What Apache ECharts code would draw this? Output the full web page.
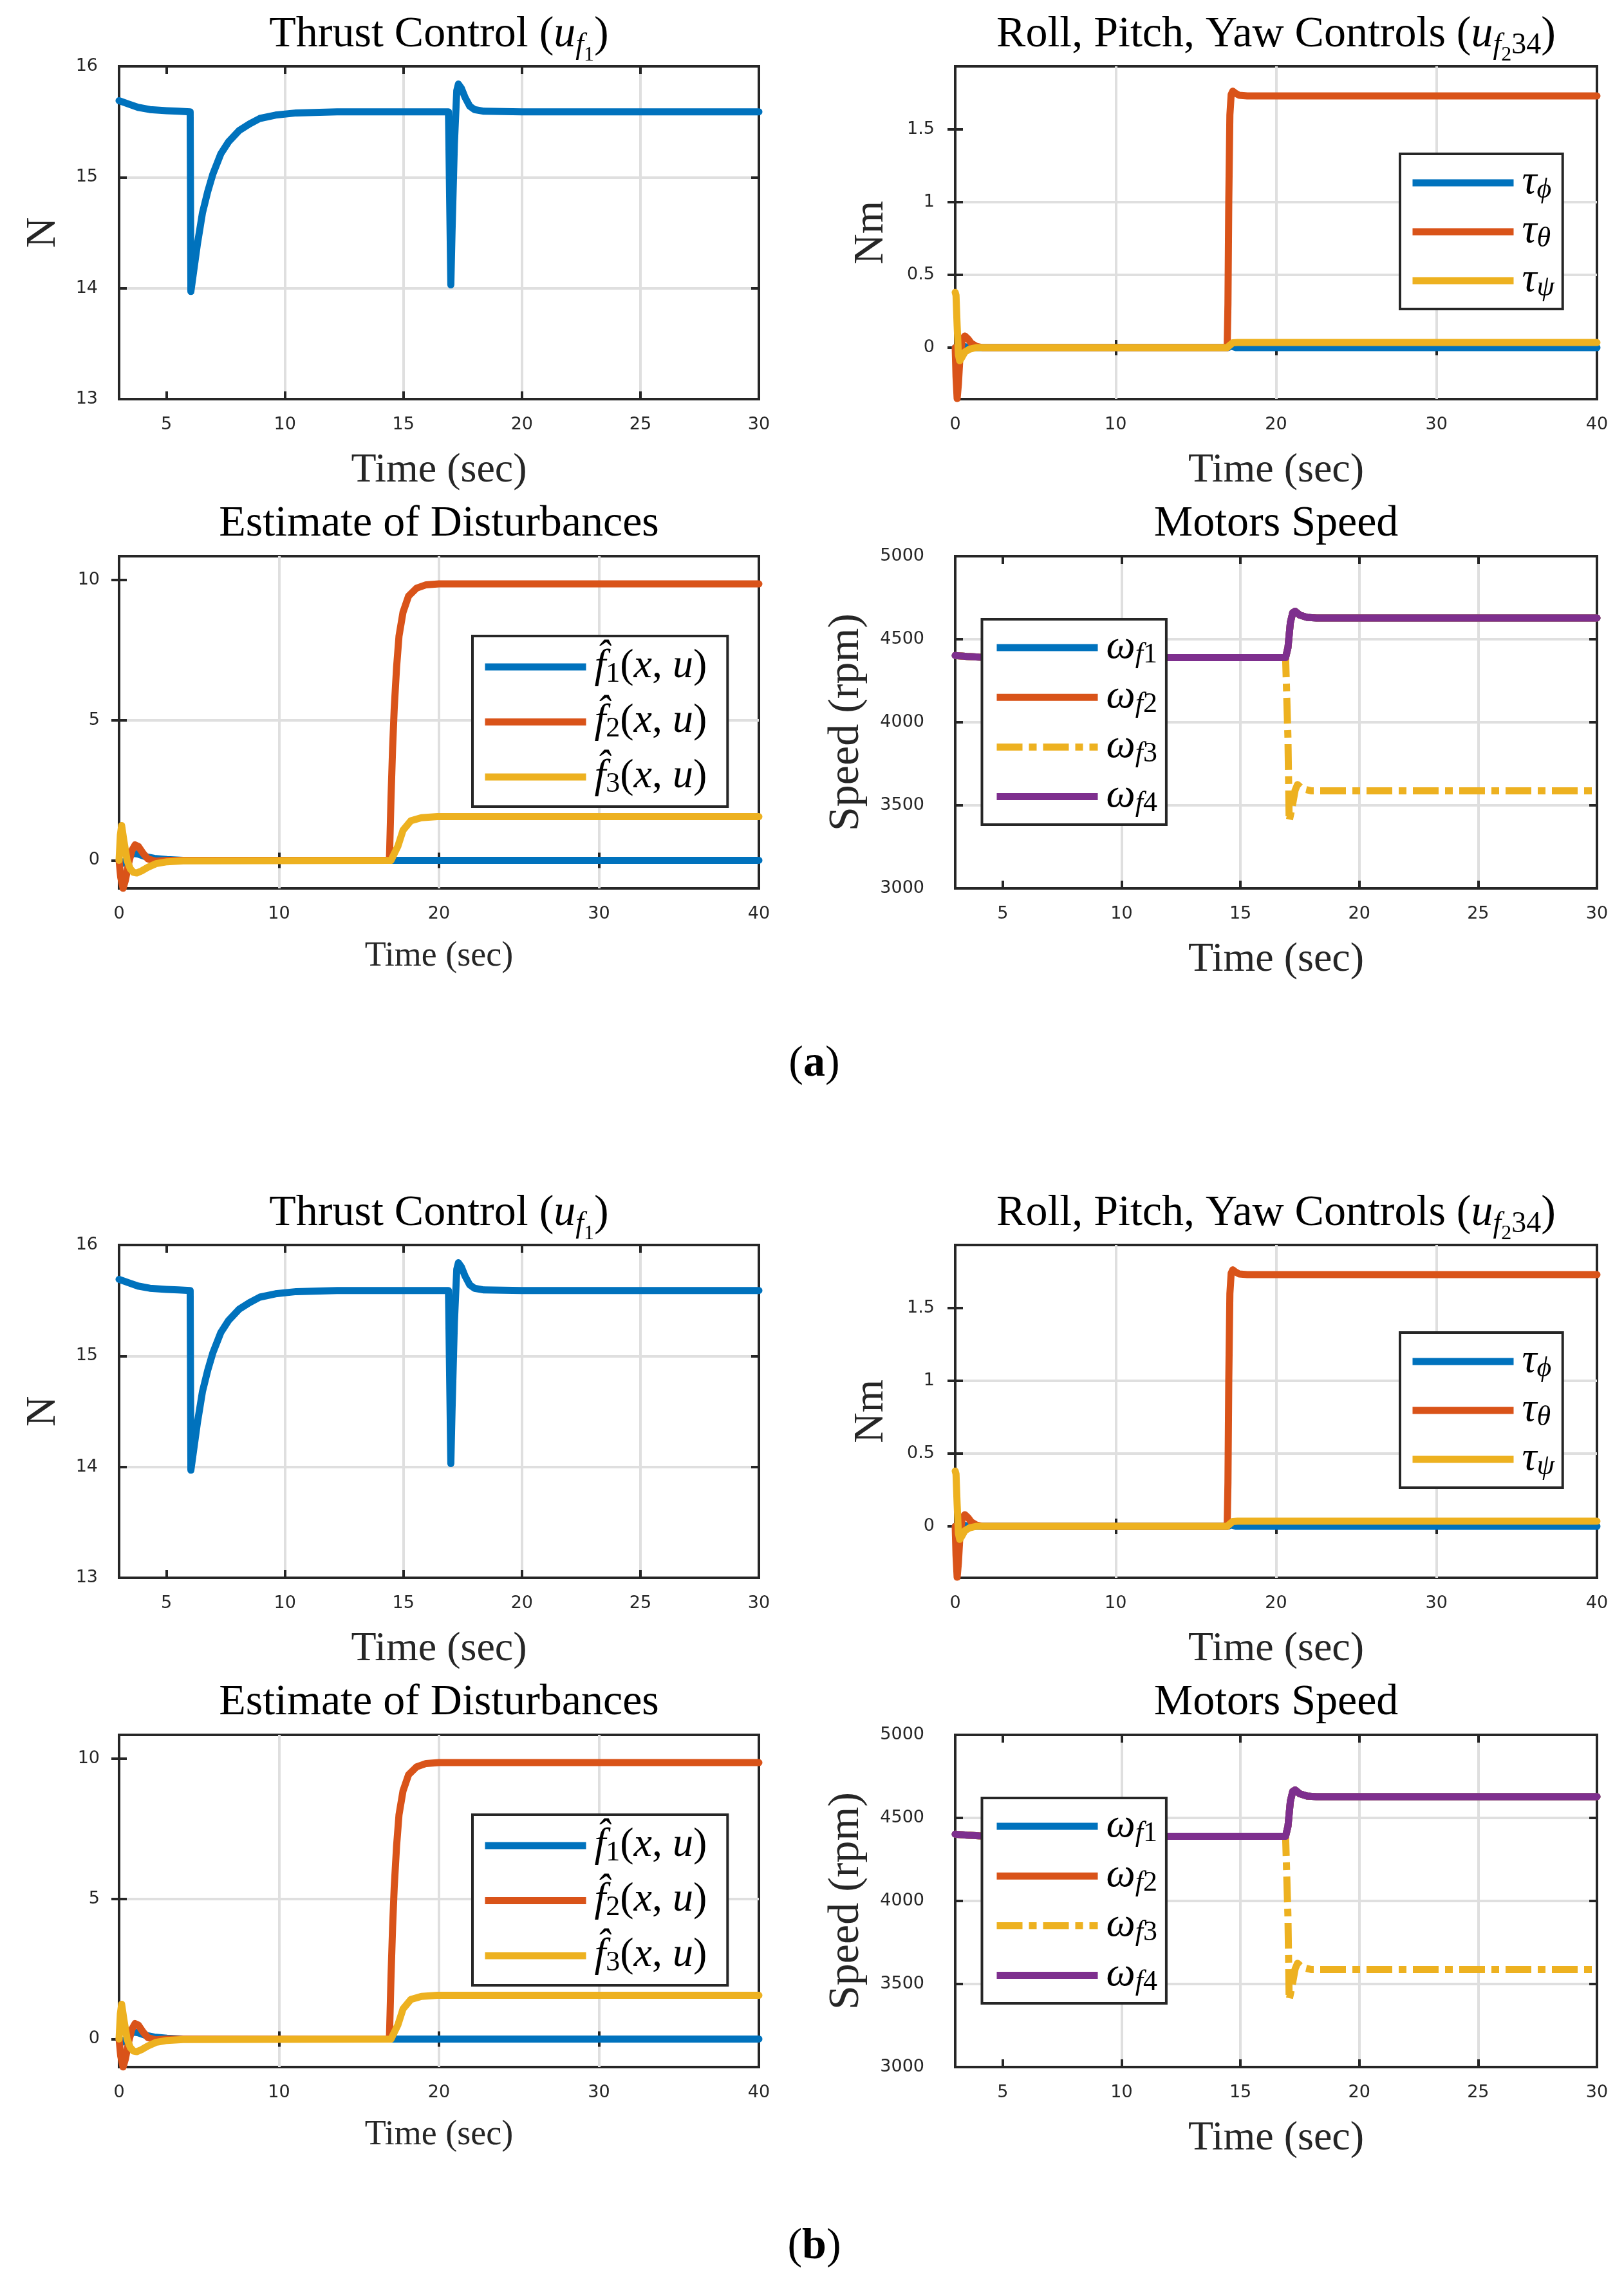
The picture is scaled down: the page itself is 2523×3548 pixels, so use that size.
<!DOCTYPE html>
<html>
<head>
<meta charset="utf-8">
<script src="https://cdn.jsdelivr.net/npm/echarts@6/dist/echarts.min.js"></script>
<style>
html,body{margin:0;padding:0;background:#fff;}
#chart{width:2523px;height:3548px;}
</style>
</head>
<body>
<div id="chart"></div>
<script>
// ---------------- DATA ----------------
// Thrust control u_f1 (N), time 3..30 s
const thrustTime  = [3, 3.4, 3.8, 4.3, 5, 5.5, 6.0, 6.03, 6.3, 6.52, 6.74, 6.96, 7.29, 7.62, 8.06, 8.5, 8.94, 9.6, 10.48, 12.2, 14, 16.9, 17.0, 17.05, 17.15, 17.25, 17.32, 17.45, 17.6, 17.8, 18.0, 18.4, 20, 25, 30];
const thrustValue = [15.69, 15.66, 15.63, 15.61, 15.6, 15.595, 15.59, 13.97, 14.39, 14.68, 14.87, 15.03, 15.21, 15.32, 15.42, 15.48, 15.53, 15.56, 15.58, 15.59, 15.59, 15.59, 14.03, 14.5, 15.3, 15.78, 15.84, 15.8, 15.72, 15.64, 15.61, 15.595, 15.59, 15.59, 15.59];

// Roll, pitch, yaw controls (Nm), time 0..40 s
const tauPhiTime    = [0, 0.1, 0.25, 0.5, 0.9, 1.5, 17.0, 17.2, 17.5, 40];
const tauPhiValue   = [0, -0.04, 0.03, 0.01, 0, 0, 0, 0.01, 0, 0];
const tauThetaTime  = [0, 0.05, 0.12, 0.2, 0.3, 0.45, 0.6, 0.8, 1.0, 1.3, 1.7, 16.95, 17.0, 17.05, 17.12, 17.2, 17.3, 17.45, 17.7, 18.2, 40];
const tauThetaValue = [0, -0.2, -0.35, -0.25, -0.05, 0.06, 0.08, 0.06, 0.03, 0.01, 0, 0, 0.3, 1.0, 1.6, 1.74, 1.763, 1.75, 1.735, 1.73, 1.73];
const tauPsiTime    = [0, 0.05, 0.12, 0.2, 0.28, 0.4, 0.6, 0.9, 1.3, 16.95, 17.1, 17.3, 17.6, 40];
const tauPsiValue   = [0.38, 0.36, 0.15, -0.05, -0.09, -0.07, -0.03, -0.01, 0, 0, 0.015, 0.033, 0.035, 0.035];

// Estimate of disturbances, time 0..40 s
const f1Time  = [0, 0.3, 0.6, 0.9, 1.2, 1.6, 2.2, 3, 4, 40];
const f1Value = [0, -0.1, 0.12, 0.25, 0.22, 0.14, 0.07, 0.03, 0, 0];
const f2Time  = [0, 0.1, 0.25, 0.4, 0.6, 0.8, 1.0, 1.2, 1.5, 1.8, 2.3, 3, 16.9, 17.0, 17.1, 17.2, 17.35, 17.5, 17.75, 18.1, 18.6, 19.2, 20, 40];
const f2Value = [0, -0.6, -1.0, -0.7, -0.1, 0.35, 0.55, 0.5, 0.25, 0.05, -0.03, 0, 0, 2.2, 4.0, 5.4, 6.9, 8.0, 8.85, 9.43, 9.71, 9.83, 9.86, 9.86];
const f3Time  = [0, 0.08, 0.16, 0.3, 0.5, 0.7, 0.9, 1.1, 1.4, 1.8, 2.3, 3, 4, 17.0, 17.43, 17.75, 18.24, 18.9, 19.9, 40];
const f3Value = [0, 0.9, 1.24, 0.7, 0.0, -0.3, -0.43, -0.45, -0.38, -0.25, -0.12, -0.05, -0.02, 0, 0.5, 1.07, 1.41, 1.52, 1.56, 1.56];

// Motors speed (rpm), time 3..30 s
const w1Time  = [3, 3.5, 4, 5, 16.9, 17.0, 17.1, 17.2, 17.3, 17.5, 17.8, 18.2, 30];
const w1Value = [4402, 4396, 4392, 4390, 4390, 4450, 4600, 4660, 4668, 4645, 4632, 4628, 4628];
const w2Time  = [3, 3.5, 4, 5, 16.9, 17.0, 17.1, 17.2, 17.3, 17.5, 17.8, 18.2, 30];
const w2Value = [4402, 4396, 4392, 4390, 4390, 4450, 4600, 4660, 4668, 4645, 4632, 4628, 4628];
const w3Time  = [3, 3.5, 4, 5, 16.9, 17.0, 17.05, 17.15, 17.3, 17.4, 17.6, 18.0, 30];
const w3Value = [4402, 4396, 4392, 4390, 4390, 3900, 3405, 3470, 3590, 3625, 3600, 3587, 3587];
const w4Time  = [3, 3.5, 4, 5, 16.9, 17.0, 17.1, 17.2, 17.3, 17.5, 17.8, 18.2, 30];
const w4Value = [4402, 4396, 4392, 4390, 4390, 4450, 4600, 4660, 4668, 4645, 4632, 4628, 4628];

// Tick labels
const thrustXTicks = [5, 10, 15, 20, 25, 30];
const thrustYTicks = [13, 14, 15, 16];
const rpyXTicks    = [0, 10, 20, 30, 40];
const rpyYTicks    = [0, 0.5, 1, 1.5];
const distXTicks   = [0, 10, 20, 30, 40];
const distYTicks   = [0, 5, 10];
const motorXTicks  = [5, 10, 15, 20, 25, 30];
const motorYTicks  = [3000, 3500, 4000, 4500, 5000];

const panelLabels = ['a', 'b'];

// ---------------- STYLE ----------------
const BLUE = '#0072BD', ORANGE = '#D95319', YELLOW = '#EDB120', PURPLE = '#7E2F8E';
const SERIF = "'Liberation Serif', 'Times New Roman', serif";
const SANS = "'DejaVu Sans', 'Liberation Sans', sans-serif";
const DARK = '#262626';
const LW = 11;

function zip(t, v) { return t.map((x, i) => [x, v[i]]); }

const titleRich = {
  t:  {fontFamily: SERIF, fontSize: 68, fontWeight: 'normal', color: '#000', lineHeight: 100, verticalAlign: 'top'},
  i:  {fontFamily: SERIF, fontSize: 68, fontWeight: 'normal', fontStyle: 'italic', color: '#000', lineHeight: 100, verticalAlign: 'top'},
  s:  {fontFamily: SERIF, fontSize: 46, fontWeight: 'normal', fontStyle: 'italic', color: '#000', lineHeight: 100, verticalAlign: 'top', padding: [28, 0, 0, 0]},
  sr: {fontFamily: SERIF, fontSize: 46, fontWeight: 'normal', color: '#000', lineHeight: 100, verticalAlign: 'top', padding: [28, 0, 0, 0]},
  ss: {fontFamily: SERIF, fontSize: 32, fontWeight: 'normal', color: '#000', lineHeight: 100, verticalAlign: 'top', padding: [50, 0, 0, 0]},
  b:  {fontFamily: SERIF, fontSize: 68, fontWeight: 'bold', color: '#000', lineHeight: 100, verticalAlign: 'top'}
};

const legendRich = {
  m:  {fontFamily: SERIF, fontSize: 64, fontStyle: 'italic', color: '#000', lineHeight: 66, verticalAlign: 'top', padding: [0, 0, 0, 8]},
  mi: {fontFamily: SERIF, fontSize: 64, fontStyle: 'italic', color: '#000', lineHeight: 66, verticalAlign: 'top'},
  r:  {fontFamily: SERIF, fontSize: 64, color: '#000', lineHeight: 66, verticalAlign: 'top'},
  s:  {fontFamily: SERIF, fontSize: 44, fontStyle: 'italic', color: '#000', lineHeight: 66, verticalAlign: 'top', padding: [22, 0, 0, 0]},
  su: {fontFamily: SERIF, fontSize: 44, color: '#000', lineHeight: 66, verticalAlign: 'top', padding: [22, 0, 0, 0]}
};

const legendText = {
  'τϕ': '{m|τ}{s|ϕ}',
  'τθ': '{m|τ}{s|θ}',
  'τψ': '{m|τ}{s|ψ}',
  'f̂1(x,u)': '{m|f̂}{su|1}{r|(}{mi|x}{r|, }{mi|u}{r|)}',
  'f̂2(x,u)': '{m|f̂}{su|2}{r|(}{mi|x}{r|, }{mi|u}{r|)}',
  'f̂3(x,u)': '{m|f̂}{su|3}{r|(}{mi|x}{r|, }{mi|u}{r|)}',
  'ωf1': '{m|ω}{s|f}{su|1}',
  'ωf2': '{m|ω}{s|f}{su|2}',
  'ωf3': '{m|ω}{s|f}{su|3}',
  'ωf4': '{m|ω}{s|f}{su|4}'
};

// ---------------- PANELS ----------------
const panels = [
  {
    left: 185, top: 103, width: 994, height: 517,
    xMin: 3, xMax: 30, xTicks: thrustXTicks, yMin: 13, yMax: 16, yTicks: thrustYTicks,
    yLabelMargin: 33, yName: 'N', yNameGap: 84, yNameSize: 66, xNameSize: 64,
    title: '{t|Thrust Control (}{i|u}{s|f}{ss|1}{t|)}', titleTop: 20,
    series: [
      {name: 'thrust', t: thrustTime, v: thrustValue, color: BLUE}
    ]
  },
  {
    left: 1484, top: 103, width: 997, height: 517,
    xMin: 0, xMax: 40, xTicks: rpyXTicks, yMin: -0.354, yMax: 1.934, yTicks: rpyYTicks,
    yLabelMargin: 32, yName: 'Nm', yNameGap: 97, yNameSize: 66, xNameSize: 64,
    title: '{t|Roll, Pitch, Yaw Controls (}{i|u}{s|f}{ss|2}{sr|34}{t|)}', titleTop: 20,
    series: [
      {name: 'τϕ', t: tauPhiTime, v: tauPhiValue, color: BLUE},
      {name: 'τθ', t: tauThetaTime, v: tauThetaValue, color: ORANGE},
      {name: 'τψ', t: tauPsiTime, v: tauPsiValue, color: YELLOW}
    ],
    legend: {left: 2175, top: 239, padding: [12, 13, 11, 14], itemGap: 10}
  },
  {
    left: 185, top: 864, width: 994, height: 516,
    xMin: 0, xMax: 40, xTicks: distXTicks, yMin: -1.0, yMax: 10.85, yTicks: distYTicks,
    yLabelMargin: 30, yName: '', yNameGap: 80, yNameSize: 66, xNameSize: 54,
    title: '{t|Estimate of Disturbances}', titleTop: 780,
    series: [
      {name: 'f̂1(x,u)', t: f1Time, v: f1Value, color: BLUE},
      {name: 'f̂2(x,u)', t: f2Time, v: f2Value, color: ORANGE},
      {name: 'f̂3(x,u)', t: f3Time, v: f3Value, color: YELLOW}
    ],
    legend: {left: 734, top: 988, padding: [15, 32, 13, 14], itemGap: 19.5}
  },
  {
    left: 1484, top: 864, width: 997, height: 516,
    xMin: 3, xMax: 30, xTicks: motorXTicks, yMin: 3000, yMax: 5000, yTicks: motorYTicks,
    yLabelMargin: 48, yName: 'Speed (rpm)', yNameGap: 135, yNameSize: 68, xNameSize: 64,
    title: '{t|Motors Speed}', titleTop: 780,
    series: [
      {name: 'ωf1', t: w1Time, v: w1Value, color: BLUE},
      {name: 'ωf2', t: w2Time, v: w2Value, color: ORANGE},
      {name: 'ωf3', t: w3Time, v: w3Value, color: YELLOW, dash: [40, 10, 12, 10]},
      {name: 'ωf4', t: w4Time, v: w4Value, color: PURPLE}
    ],
    legend: {left: 1525.5, top: 962, padding: [11, 14, 10.5, 17.5], itemGap: 11.2}
  }
];

const halfOffsets = [0, 1831];
const labelTops = [1619, 3456];

const option = {
  backgroundColor: '#fff',
  animation: false,
  title: [], grid: [], xAxis: [], yAxis: [], legend: [], series: []
};

function tickCfg(ticks) {
  return {show: true, inside: true, length: 12, lineStyle: {color: DARK, width: 4}, customValues: ticks};
}
const plainNum = v => String(v);

halfOffsets.forEach((dy, h) => {
  panels.forEach(p => {
    const gi = option.grid.length;
    option.grid.push({
      left: p.left, top: p.top + dy, width: p.width, height: p.height,
      show: true, borderColor: DARK, borderWidth: 4, backgroundColor: '#fff'
    });
    const xi = option.xAxis.length;
    option.xAxis.push({
      type: 'value', gridIndex: gi, position: 'bottom', min: p.xMin, max: p.xMax,
      axisLine: {show: false},
      axisTick: tickCfg(p.xTicks),
      axisLabel: {show: true, margin: 26, color: DARK, fontFamily: SANS, fontSize: 27, customValues: p.xTicks, formatter: plainNum},
      splitLine: {show: true, showMinLine: false, showMaxLine: false, lineStyle: {color: '#dfdfdf', width: 4}},
      name: 'Time (sec)', nameLocation: 'middle', nameGap: 79,
      nameTextStyle: {fontFamily: SERIF, fontSize: p.xNameSize, color: DARK}
    });
    option.xAxis.push({
      type: 'value', gridIndex: gi, position: 'top', min: p.xMin, max: p.xMax,
      axisLine: {show: false}, axisTick: tickCfg(p.xTicks),
      axisLabel: {show: false}, splitLine: {show: false}
    });
    const yi = option.yAxis.length;
    option.yAxis.push({
      type: 'value', gridIndex: gi, position: 'left', min: p.yMin, max: p.yMax,
      axisLine: {show: false},
      axisTick: tickCfg(p.yTicks),
      axisLabel: {show: true, margin: p.yLabelMargin, color: DARK, fontFamily: SANS, fontSize: 27, customValues: p.yTicks, formatter: plainNum},
      splitLine: {show: true, showMinLine: false, showMaxLine: false, lineStyle: {color: '#dfdfdf', width: 4}},
      name: p.yName, nameLocation: 'middle', nameRotate: 90, nameGap: p.yNameGap,
      nameTextStyle: {fontFamily: SERIF, fontSize: p.yNameSize, color: DARK}
    });
    option.yAxis.push({
      type: 'value', gridIndex: gi, position: 'right', min: p.yMin, max: p.yMax,
      axisLine: {show: false}, axisTick: tickCfg(p.yTicks),
      axisLabel: {show: false}, splitLine: {show: false}
    });
    option.title.push({
      text: p.title, left: p.left + p.width / 2, top: p.titleTop + dy, textAlign: 'center', padding: 0,
      textStyle: {fontWeight: 'normal', fontFamily: SERIF, fontSize: 68, color: '#000', rich: titleRich}
    });
    p.series.forEach(s => {
      option.series.push({
        type: 'line', name: s.name, xAxisIndex: xi, yAxisIndex: yi,
        data: zip(s.t, s.v), symbol: 'none', showSymbol: false, smooth: false,
        lineStyle: s.dash
          ? {color: s.color, width: LW, type: s.dash, cap: 'butt', join: 'round'}
          : {color: s.color, width: LW, cap: 'round', join: 'round'},
        itemStyle: {color: s.color},
        emphasis: {disabled: true}, silent: true, z: 3
      });
    });
    if (p.legend) {
      option.legend.push({
        data: p.series.map(s => s.name), orient: 'vertical',
        left: p.legend.left, top: p.legend.top + dy,
        padding: p.legend.padding, itemGap: p.legend.itemGap,
        itemWidth: 157, itemHeight: 10, selectedMode: false,
        backgroundColor: '#fff', borderColor: DARK, borderWidth: 4, borderRadius: 0,
        lineStyle: {width: LW, cap: 'butt'},
        itemStyle: {opacity: 0},
        formatter: name => legendText[name] || name,
        textStyle: {fontFamily: SERIF, fontSize: 64, color: '#000', rich: legendRich},
        z: 10
      });
    }
  });
  option.title.push({
    text: '{t|(}{b|' + panelLabels[h] + '}{t|)}', left: 1265, top: labelTops[h], textAlign: 'center', padding: 0,
    textStyle: {fontWeight: 'normal', fontFamily: SERIF, fontSize: 68, color: '#000', rich: titleRich}
  });
});

const chart = echarts.init(document.getElementById('chart'), null, {renderer: 'canvas'});
chart.setOption(option);
</script>
</body>
</html>
